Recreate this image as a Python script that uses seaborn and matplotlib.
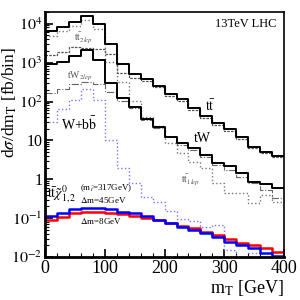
import numpy as np
import pandas as pd
import matplotlib
matplotlib.use("Agg")
import matplotlib.pyplot as plt
from matplotlib.ticker import LogLocator, FixedLocator, NullFormatter, FuncFormatter
import seaborn as sns

# bin edges of m_T [GeV], 20 GeV bins
edges = list(range(0, 420, 20))

# total backgrounds
ttbar = [6520, 8260, 11140, 15900, 9890, 3010, 900, 505, 375, 247,
         153, 114, 66.7, 41.5, 27.3, 19.1, 11.9, 6.96, 5.16, 4.07]
tw = [914, 1030, 1470, 2100, 1160, 295, 121, 70.8, 34.7, 21.5,
      12.6, 8.83, 6.56, 4.32, 2.69, 2.25, 1.48, 0.868, 0.77, 0.61]
# components
tt_2lep = [1563, 1870, 2520, 2380, 2250, 1660, 550, 400, 340, 230,
           140, 105, 61, 38, 25, 17.5, 10.9, 6.4, 4.7, 3.7]
tt_1lep = [4840, 6520, 8770, 12530, 7340, 1030, 313, 101, 39, 22.9,
           8.8, 4.87, 2.85, 2.0, 0.82, 0.45, 0.45, 0.25, 0.40, 0.265]
tw_2lep = [163, 207, 278, 313, 278, 173, 101, 66.7, 32.7, 20.3,
           11.9, 7.8, 5.8, 3.84, 2.38, 1.77, 1.16, 0.82, 0.54, 0.33]
wbb = [29, 62.8, 107, 207, 107, 10.5, 2.0, 0.82, 0.355, 0.264,
       0.154, 0.096, 0.085, 0.060, 0.067, 0.015, 0.009, 0.013, 0.009, 0.008]
# signal, m_stop = 317 GeV
sig_dm45 = [0.115, 0.137, 0.174, 0.185, 0.185, 0.174, 0.146, 0.137, 0.114, 0.090,
            0.076, 0.060, 0.050, 0.042, 0.033, 0.024, 0.020, 0.017, 0.0127, 0.0106]
sig_dm8 = [0.090, 0.108, 0.137, 0.146, 0.146, 0.137, 0.129, 0.114, 0.100, 0.090,
           0.076, 0.062, 0.056, 0.043, 0.036, 0.030, 0.023, 0.020, 0.017, 0.0135]

plt.rcParams['font.family'] = 'serif'
plt.rcParams['font.serif'] = ['Liberation Serif', 'DejaVu Serif']
plt.rcParams['mathtext.fontset'] = 'stix'

fig = plt.figure(figsize=(3, 3), dpi=100)
ax = fig.add_axes([0.15, 0.143, 0.797, 0.817])


def step(vals, **kw):
    # repeat last value so the final bin is drawn to 400
    df = pd.DataFrame({'x': edges, 'y': list(vals) + [vals[-1]]})
    sns.lineplot(data=df, x='x', y='y', drawstyle='steps-post', ax=ax, **kw)


step(tt_1lep, color='#777777', linestyle=':', linewidth=1.0)
step(tt_2lep, color='#555555', linestyle=(0, (2, 1)), linewidth=0.9)
step(tw_2lep, color='#666666', linestyle='-.', linewidth=0.8)
step(wbb, color='#7777ff', linestyle=':', linewidth=1.0)
step(ttbar, color='black', linewidth=1.4)
step(tw, color='black', linewidth=1.4)
step(sig_dm8, color='red', linewidth=1.8)
step(sig_dm45, color='blue', linewidth=1.8)

ax.set_yscale('log')
ax.set_xlim(0, 400)
ax.set_ylim(1e-2, 2e4)


def ylab(v, pos):
    e = int(round(np.log10(v)))
    if e == 0:
        return '1'
    if e == 1:
        return '10'
    return r'$10^{%d}$' % e


ax.xaxis.set_major_locator(FixedLocator([0, 100, 200, 300, 400]))
ax.xaxis.set_minor_locator(FixedLocator(list(range(0, 401, 20))))
ax.yaxis.set_major_locator(FixedLocator([1e-2, 1e-1, 1, 10, 1e2, 1e3, 1e4]))
ax.yaxis.set_major_formatter(FuncFormatter(ylab))
ax.yaxis.set_minor_locator(LogLocator(base=10, subs=np.arange(2, 10), numticks=20))
ax.yaxis.set_minor_formatter(NullFormatter())
ax.tick_params(which='both', direction='in', top=False, right=False)
ax.tick_params(axis='x', labelsize=13)
ax.tick_params(axis='y', labelsize=11.5)
ax.tick_params(which='major', length=6, width=1.2, pad=2)
ax.tick_params(which='minor', length=3, width=0.8)
for s in ax.spines.values():
    s.set_linewidth(1.2)
ax.spines['left'].set_linewidth(2.0)
ax.spines['bottom'].set_linewidth(2.0)

ax.set_xlabel(r'm$_\mathrm{T}$ [GeV]', fontsize=13, loc='right', labelpad=1)
ax.set_ylabel(r'd$\sigma$/dm$_\mathrm{T}$ [fb/bin]', fontsize=12.5)
ax.yaxis.set_label_coords(-0.11, 0.63)

ax.text(0.97, 0.975, '13TeV LHC', transform=ax.transAxes, ha='right', va='top', fontsize=9)
ax.text(276, 75, r'$\mathrm{t\bar{t}}$', fontsize=10, ha='center', va='center')
ax.text(264, 11.2, 'tW', fontsize=10, ha='center', va='center')
ax.text(243, 0.98, r'$\mathrm{t\bar{t}}_{1lep}$', fontsize=7, ha='center', va='center', color='#555555')
ax.text(64, 4300, r'$\mathrm{t\bar{t}}_{2lep}$', fontsize=7, ha='center', va='center', color='#555555')
ax.text(59, 448, r'tW$_{2lep}$', fontsize=7, ha='center', va='center', color='#555555')
ax.text(57, 25.8, r'W+b$\bar{\mathrm{b}}$', fontsize=10, ha='center', va='center')
ax.text(3, 0.4, r'$\mathrm{t\bar{t}}\tilde{\chi}^{0}_{1,2}$', fontsize=10, ha='left', va='center')
ax.text(59, 0.58, r'(m$_{\tilde{t}}$=317GeV)', fontsize=6.5, ha='left', va='center')
ax.text(59, 0.30, r'$\Delta$m=45GeV', fontsize=6.5, ha='left', va='center')
ax.text(59, 0.083, r'$\Delta$m=8GeV', fontsize=6.5, ha='left', va='center')

fig.savefig('out.png', dpi=100)
